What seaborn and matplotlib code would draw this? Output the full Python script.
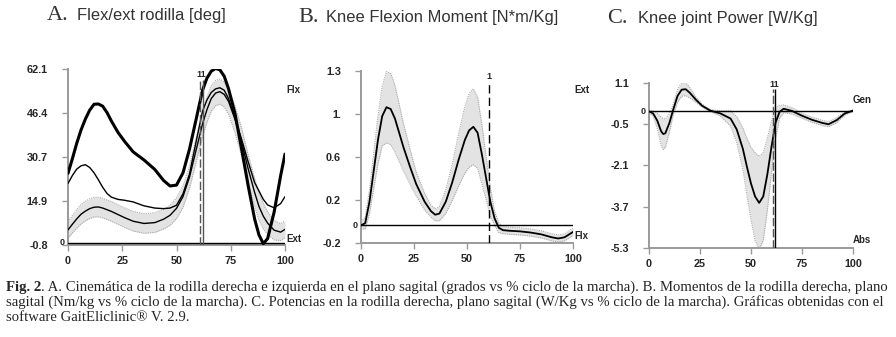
import numpy as np
import pandas as pd
import matplotlib
matplotlib.use("Agg")
import matplotlib.pyplot as plt
import seaborn as sns

# ---- A. knee flexion / extension [deg] ----
pct_a = [0, 2, 4, 6, 8, 10, 12, 14, 16, 18, 20, 23, 26, 30, 35, 40, 44, 47, 50, 53,
         56, 59, 62, 64, 66, 68, 70, 72, 74, 77, 80, 83, 86, 88, 90, 92, 95, 98, 100]
rodilla_thick = [24.8, 30.0, 35.5, 40.3, 44.2, 47.4, 49.5, 49.6, 48.8, 46.5, 43.5, 39.5,
                 36.3, 32.5, 29.6, 26.2, 22.3, 20.3, 20.6, 25.0, 33.5, 44.0, 54.5, 58.8,
                 61.3, 62.3, 61.8, 59.5, 55.0, 46.0, 33.5, 20.5, 8.5, 2.8, -0.3, 1.5,
                 11.0, 24.0, 31.7]
rodilla_thin = [21.2, 24.0, 26.3, 27.5, 27.9, 26.9, 25.0, 22.5, 19.8, 17.6, 16.3, 15.5,
                15.2, 14.6, 13.2, 12.4, 12.2, 12.4, 13.4, 17.5, 24.6, 36.0, 47.0, 51.0,
                53.7, 55.0, 55.4, 54.5, 51.5, 44.5, 37.0, 29.0, 21.5, 18.5, 15.5, 13.5,
                12.5, 14.0, 16.5]
normal_a = [4.6, 6.6, 8.5, 10.2, 11.3, 12.2, 12.7, 12.8, 12.4, 11.8, 11.2, 10.1,
            9.0, 7.7, 6.9, 7.2, 8.4, 9.8, 12.3, 16.5, 23.5, 33.0, 42.5, 47.5,
            51.5, 53.5, 54.0, 53.0, 50.5, 44.0, 36.0, 26.5, 18.0, 13.0, 9.5, 7.0,
            4.5, 3.8, 4.8]
sd_a = [3.0, 3.1, 3.3, 3.5, 3.5, 3.5, 3.5, 3.5, 3.5, 3.5, 3.5, 3.5,
        3.5, 3.5, 3.5, 3.5, 3.5, 3.6, 3.7, 3.8, 4.0, 4.3, 4.5, 4.5,
        4.5, 4.5, 4.5, 4.5, 4.6, 4.8, 5.0, 5.0, 5.0, 5.0, 4.5, 4.0,
        3.5, 3.0, 3.0]
ticks_a = ["-0.8", "14.9", "30.7", "46.4", "62.1"]

# ---- B. knee flexion moment [N*m/Kg] ----
pct_b = [0, 2, 4, 6, 8, 10, 12, 14, 16, 18, 20, 23, 26, 30, 33, 35, 37, 40, 43,
         46, 49, 51, 53, 55, 57, 59, 61, 63, 65, 67, 70, 75, 80, 85, 90, 93, 96, 100]
moment_b = [0.0, 0.02, 0.2, 0.46, 0.72, 0.92, 0.995, 0.98, 0.9, 0.78, 0.66, 0.5,
            0.35, 0.2, 0.12, 0.09, 0.1, 0.2, 0.36, 0.55, 0.72, 0.8, 0.83, 0.78,
            0.6, 0.4, 0.2, 0.06, -0.02, -0.04, -0.045, -0.05, -0.06, -0.075,
            -0.1, -0.11, -0.1, -0.055]
sd_b = [0.03, 0.05, 0.1, 0.15, 0.2, 0.25, 0.3, 0.3, 0.28, 0.24, 0.2, 0.15,
        0.1, 0.07, 0.05, 0.05, 0.06, 0.1, 0.15, 0.22, 0.28, 0.31, 0.32, 0.3,
        0.25, 0.18, 0.12, 0.06, 0.04, 0.03, 0.03, 0.03, 0.03, 0.03,
        0.03, 0.03, 0.03, 0.03]
ticks_b = ["-0.2", "0.2", "0.6", "1.", "1.3"]

# ---- C. knee joint power [W/Kg] ----
pct_c = [0, 2, 4, 6, 7, 8, 10, 12, 14, 16, 18, 20, 23, 26, 30, 35, 40, 43, 46,
         48, 50, 52, 54, 56, 58, 60, 62, 64, 66, 70, 75, 80, 85, 88, 92, 96, 100]
power_c = [0.0, -0.08, -0.35, -0.78, -0.88, -0.85, -0.45, 0.1, 0.6, 0.84, 0.86, 0.72,
           0.45, 0.22, 0.03, -0.08, -0.28, -0.7, -1.45, -2.15, -2.8, -3.3, -3.55,
           -3.3, -2.45, -1.4, -0.45, -0.02, 0.1, 0.02, -0.17, -0.33, -0.45, -0.5,
           -0.34, -0.08, 0.03]
sd_c = [0.05, 0.1, 0.3, 0.55, 0.6, 0.55, 0.35, 0.2, 0.25, 0.25, 0.25, 0.2,
        0.1, 0.06, 0.04, 0.1, 0.3, 0.5, 0.8, 1.1, 1.4, 1.7, 1.8,
        1.7, 1.4, 1.0, 0.6, 0.25, 0.15, 0.12, 0.1, 0.1, 0.1, 0.1,
        0.1, 0.06, 0.03]
ticks_c = ["-5.3", "-3.7", "-2.1", "-0.5", "1.1"]

caption = [
    ". A. Cinemática de la rodilla derecha e izquierda en el plano sagital (grados vs % ciclo de la marcha). B. Momentos de la rodilla derecha, plano",
    "sagital (Nm/kg vs % ciclo de la marcha). C. Potencias en la rodilla derecha, plano sagital (W/Kg vs % ciclo de la marcha). Gráficas obtenidas con el",
    "software GaitEliclinic® V. 2.9.",
]

sns.set_style("white")
SANS = ["Liberation Sans", "DejaVu Sans"]
SERIF = ["Liberation Serif", "DejaVu Serif"]
plt.rcParams["font.family"] = SANS

fig = plt.figure(figsize=(8.96, 3.37), dpi=100)
W, H = 896, 337


def px_axes(l, t, r, b):
    return fig.add_axes([l / W, 1 - b / H, (r - l) / W, (b - t) / H])


def band(ax, x, mean, sd):
    x = np.array(x)
    lo = np.array(mean) - np.array(sd)
    hi = np.array(mean) + np.array(sd)
    ax.fill_between(x, lo, hi, color="#e3e3e3", lw=0, zorder=1)
    ax.plot(x, lo, color="#a8a8a8", lw=0.8, ls=(0, (1, 1)), zorder=2)
    ax.plot(x, hi, color="#a8a8a8", lw=0.8, ls=(0, (1, 1)), zorder=2)


def style(ax, lo, hi, labels):
    ax.set_xlim(0, 100)
    ax.set_ylim(lo, hi)
    for s in ["top", "right"]:
        ax.spines[s].set_visible(False)
    for s in ["left", "bottom"]:
        ax.spines[s].set_color("#9a9a9a")
        ax.spines[s].set_linewidth(1.4)
    ax.set_yticks(np.linspace(lo, hi, 5))
    ax.set_yticklabels(labels)
    ax.set_xticks([0, 25, 50, 75, 100])
    ax.tick_params(axis="both", which="both", direction="out", width=1,
                   color="#9a9a9a", labelsize=7.8, left=True, bottom=True)
    ax.tick_params(axis="y", length=4.5, pad=10)
    ax.tick_params(axis="x", length=4, pad=4)
    for t in ax.get_xticklabels() + ax.get_yticklabels():
        t.set_fontweight("bold")
    ax.axhline(0, color="black", lw=1.0, zorder=3)
    ax.text(-1.5, 0, "0", ha="right", va="center", fontsize=6.5, fontweight="bold")
    ax.set_xlabel("")
    ax.set_ylabel("")
    ax.patch.set_alpha(0)
    for ln in ax.lines:
        ln.set_solid_joinstyle("round")


# panel A
axA = px_axes(68, 69, 285, 245)
band(axA, pct_a, normal_a, sd_a)
dfA = pd.DataFrame({"pct": pct_a, "thick": rodilla_thick, "thin": rodilla_thin, "norm": normal_a})
sns.lineplot(data=dfA, x="pct", y="norm", ax=axA, color="black", lw=1.0, zorder=4)
sns.lineplot(data=dfA, x="pct", y="thin", ax=axA, color="black", lw=1.0, zorder=4)
sns.lineplot(data=dfA, x="pct", y="thick", ax=axA, color="black", lw=2.2, zorder=5)
style(axA, -0.8, 62.1, ticks_a)
axA.vlines(61, -0.8, 58, color="#555555", lw=1.0, ls=(0, (6, 2)), zorder=6)
axA.vlines(62, -0.8, 58, color="#555555", lw=1.0, zorder=6)
axA.text(61.5, 58.5, "11", ha="center", va="bottom", fontsize=6.5, fontweight="bold")
axA.text(100.8, 54.5, "Flx", ha="left", va="center", fontsize=7, fontweight="bold", clip_on=False)
axA.text(100.8, 1.5, "Ext", ha="left", va="center", fontsize=7, fontweight="bold", clip_on=False)

# panel B
axB = px_axes(361, 71, 573, 243)
band(axB, pct_b, moment_b, sd_b)
dfB = pd.DataFrame({"pct": pct_b, "m": moment_b})
sns.lineplot(data=dfB, x="pct", y="m", ax=axB, color="black", lw=1.3, zorder=5)
style(axB, -0.148, 1.3, ticks_b)
axB.vlines(60.5, -0.148, 1.21, color="black", lw=1.0, ls=(0, (6, 3)), zorder=6)
axB.text(60.5, 1.22, "1", ha="center", va="bottom", fontsize=6.5, fontweight="bold")
axB.text(100.5, 1.14, "Ext", ha="left", va="center", fontsize=7, fontweight="bold", clip_on=False)
axB.text(100.5, -0.09, "Flx", ha="left", va="center", fontsize=7, fontweight="bold", clip_on=False)

# panel C
axC = px_axes(649, 83, 853, 248)
band(axC, pct_c, power_c, sd_c)
dfC = pd.DataFrame({"pct": pct_c, "p": power_c})
sns.lineplot(data=dfC, x="pct", y="p", ax=axC, color="black", lw=1.3, zorder=5)
style(axC, -5.3, 1.1, ticks_c)
axC.vlines(61, -5.3, 0.85, color="#555555", lw=1.0, ls=(0, (6, 2)), zorder=6)
axC.vlines(62, -5.3, 0.85, color="black", lw=1.0, zorder=6)
axC.text(61.5, 0.85, "11", ha="center", va="bottom", fontsize=6.5, fontweight="bold")
axC.text(100, 0.45, "Gen", ha="left", va="center", fontsize=7, fontweight="bold", clip_on=False)
axC.text(100, -5.0, "Abs", ha="left", va="center", fontsize=7, fontweight="bold", clip_on=False)

# titles
for letter, x0, x1, y, title in [("A.", 47, 77, 20, "Flex/ext rodilla [deg]"),
                                 ("B.", 298, 326, 22, "Knee Flexion Moment [N*m/Kg]"),
                                 ("C.", 607, 638, 23, "Knee joint Power [W/Kg]")]:
    fig.text(x0 / W, 1 - y / H, letter, family=SERIF, fontsize=16, va="baseline", color="#333333")
    fig.text(x1 / W, 1 - y / H, title, family=SANS, fontsize=11.9, va="baseline", color="#333333")

# caption
fig.canvas.draw()
r = fig.canvas.get_renderer()
CAP = 10.6
t0 = fig.text(6 / W, 1 - 291 / H, "Fig. 2", family=SERIF, fontsize=CAP,
              fontweight="bold", va="baseline")
bb = t0.get_window_extent(renderer=r)
fig.text(bb.x1 / W, 1 - 291 / H, caption[0], family=SERIF, fontsize=CAP, va="baseline")
fig.text(6 / W, 1 - 306 / H, caption[1], family=SERIF, fontsize=CAP, va="baseline")
fig.text(6 / W, 1 - 321 / H, caption[2], family=SERIF, fontsize=CAP, va="baseline")

fig.savefig("out.png", dpi=100)
